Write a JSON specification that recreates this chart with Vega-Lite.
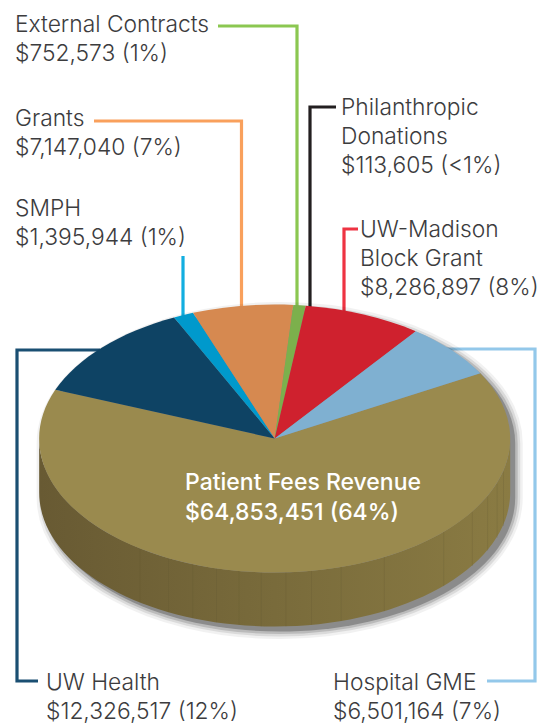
{
"$schema":"https://vega.github.io/schema/vega-lite/v6.json",
"width":539,"height":724,"padding":0,"autosize":{"type":"none"},
"background":"white",
"view":{"stroke":null},
"datasets":{
"slices":[
{"source":"Patient Fees Revenue","amount":64853451,"cx":274.7,"cy":438.5},
{"source":"UW Health","amount":12326517,"cx":274.7,"cy":438.5},
{"source":"SMPH","amount":1395944,"cx":274.7,"cy":438.5},
{"source":"Grants","amount":7147040,"cx":274.7,"cy":438.5},
{"source":"External Contracts","amount":752573,"cx":274.7,"cy":438.5},
{"source":"UW-Madison Block Grant","amount":8286897,"cx":274.7,"cy":438.5},
{"source":"Hospital GME","amount":6501164,"cx":274.7,"cy":438.5}
],
"labels":[
{"source":"External Contracts","label":["External Contracts","$752,573 (1%)"],"lx":15,"ly":31.5},
{"source":"Grants","label":["Grants","$7,147,040 (7%)"],"lx":15,"ly":125.5},
{"source":"SMPH","label":["SMPH","$1,395,944 (1%)"],"lx":15,"ly":216},
{"source":"Philanthropic Donations","label":["Philanthropic","Donations","$113,605 (<1%)"],"lx":341,"ly":115},
{"source":"UW-Madison Block Grant","label":["UW-Madison","Block Grant","$8,286,897 (8%)"],"lx":360,"ly":237},
{"source":"UW Health","label":["UW Health","$12,326,517 (12%)"],"lx":46,"ly":690},
{"source":"Hospital GME","label":["Hospital GME","$6,501,164 (7%)"],"lx":333,"ly":690}
],
"center":[{"source":"Patient Fees Revenue","label":["Patient Fees Revenue","$64,853,451 (64%)"],"lx":185,"ly":490}],
"leaders":[
{"source":"External Contracts","step":1,"x":218,"y":26},{"source":"External Contracts","step":2,"x":297,"y":26},{"source":"External Contracts","step":3,"x":297,"y":310},
{"source":"Grants","step":1,"x":94,"y":121},{"source":"Grants","step":2,"x":241.5,"y":121},{"source":"Grants","step":3,"x":241.5,"y":308},
{"source":"SMPH","step":1,"x":183,"y":256},{"source":"SMPH","step":2,"x":183,"y":318},
{"source":"Philanthropic Donations","step":1,"x":336,"y":107},{"source":"Philanthropic Donations","step":2,"x":310,"y":107},{"source":"Philanthropic Donations","step":3,"x":310,"y":308},
{"source":"UW-Madison Block Grant","step":1,"x":358,"y":229},{"source":"UW-Madison Block Grant","step":2,"x":344,"y":229},{"source":"UW-Madison Block Grant","step":3,"x":344,"y":314},
{"source":"UW Health","step":1,"x":100,"y":350},{"source":"UW Health","step":2,"x":17,"y":350},{"source":"UW Health","step":3,"x":17,"y":681},{"source":"UW Health","step":4,"x":38,"y":681},
{"source":"Hospital GME","step":1,"x":440,"y":349},{"source":"Hospital GME","step":2,"x":535,"y":349},{"source":"Hospital GME","step":3,"x":535,"y":681},{"source":"Hospital GME","step":4,"x":487,"y":681}
],
"ribs":[
{"x":139.9,"y":548.4,"y2":602.4},{"x":168.5,"y":558.1,"y2":612.1},{"x":192.7,"y":564.1,"y2":618.1},{"x":216.5,"y":568.3,"y2":622.3},{"x":239,"y":570.9,"y2":624.9},{"x":261.4,"y":572.3,"y2":626.3},{"x":285.9,"y":572.4,"y2":626.4},{"x":311.5,"y":570.9,"y2":624.9},{"x":341.2,"y":567.1,"y2":621.1},{"x":384.3,"y":557.3,"y2":611.3},{"x":443.7,"y":532.2,"y2":586.2},{"x":472.4,"y":512,"y2":566},{"x":487.6,"y":496.7,"y2":550.7},{"x":497.2,"y":483.7,"y2":537.7},{"x":503.5,"y":472,"y2":526}
],
"body":[{"part":"pie body","cx":274.7,"cy":438.5}],
"shadow":[{"part":"drop shadow","cx":279.7,"cy":443.5}]
},
"resolve":{"scale":{"color":"independent","shape":"independent"}},
"layer":[
{"data":{"name":"leaders"},
 "mark":{"type":"line","strokeWidth":3.2,"strokeJoin":"miter","strokeCap":"butt"},
 "encoding":{
  "x":{"field":"x","type":"quantitative","scale":{"domain":[0,539],"range":[0,539],"nice":false,"zero":false},"axis":null},
  "y":{"field":"y","type":"quantitative","scale":{"domain":[0,724],"range":[0,724],"nice":false,"zero":false},"axis":null},
  "order":{"field":"step","type":"ordinal"},
  "color":{"field":"source","type":"nominal","legend":null,"scale":{
   "domain":["External Contracts","Grants","SMPH","Philanthropic Donations","UW-Madison Block Grant","UW Health","Hospital GME"],
   "range":["#8bc751","#f9a05c","#12aee0","#231f20","#ee3342","#1a4f72","#93c8ea"]}}
 }},
{"data":{"name":"shadow"},"mark":{"type":"point","filled":true,"shape":"M-235.5,0 A235.5,134 0 0 1 235.5,0 L235.5,54 A235.5,134 0 0 1 -235.5,54 Z","fill":"#000","stroke":"#000","strokeWidth":15,"opacity":0.05,"size":4},
 "encoding":{"x":{"field":"cx","type":"quantitative","scale":{"domain":[0,539],"range":[0,539],"nice":false,"zero":false},"axis":null},"y":{"field":"cy","type":"quantitative","scale":{"domain":[0,724],"range":[0,724],"nice":false,"zero":false},"axis":null}}},
{"data":{"name":"shadow"},"mark":{"type":"point","filled":true,"shape":"M-235.5,0 A235.5,134 0 0 1 235.5,0 L235.5,54 A235.5,134 0 0 1 -235.5,54 Z","fill":"#000","stroke":"#000","strokeWidth":10,"opacity":0.09,"size":4},
 "encoding":{"x":{"field":"cx","type":"quantitative","scale":{"domain":[0,539],"range":[0,539],"nice":false,"zero":false},"axis":null},"y":{"field":"cy","type":"quantitative","scale":{"domain":[0,724],"range":[0,724],"nice":false,"zero":false},"axis":null}}},
{"data":{"name":"shadow"},"mark":{"type":"point","filled":true,"shape":"M-235.5,0 A235.5,134 0 0 1 235.5,0 L235.5,54 A235.5,134 0 0 1 -235.5,54 Z","fill":"#000","stroke":"#000","strokeWidth":5,"opacity":0.14,"size":4},
 "encoding":{"x":{"field":"cx","type":"quantitative","scale":{"domain":[0,539],"range":[0,539],"nice":false,"zero":false},"axis":null},"y":{"field":"cy","type":"quantitative","scale":{"domain":[0,724],"range":[0,724],"nice":false,"zero":false},"axis":null}}},
{"data":{"name":"shadow"},"mark":{"type":"point","filled":true,"shape":"M-235.5,0 A235.5,134 0 0 1 235.5,0 L235.5,54 A235.5,134 0 0 1 -235.5,54 Z","fill":"#000","stroke":"#000","strokeWidth":0,"opacity":0.25,"size":4},
 "encoding":{"x":{"field":"cx","type":"quantitative","scale":{"domain":[0,539],"range":[0,539],"nice":false,"zero":false},"axis":null},"y":{"field":"cy","type":"quantitative","scale":{"domain":[0,724],"range":[0,724],"nice":false,"zero":false},"axis":null}}},
{"data":{"name":"body"},"mark":{"type":"point","filled":true,"opacity":1,"size":4,"strokeWidth":0,
  "shape":"M-235.5,0 A235.5,134 0 0 0 235.5,0 L235.5,54 A235.5,134 0 0 1 -235.5,54 Z",
  "fill":{"gradient":"linear","x1":0,"y1":0,"x2":1,"y2":0,"stops":[{"offset":0,"color":"#685a33"},{"offset":0.5,"color":"#796b3b"},{"offset":1,"color":"#8a7b43"}]}},
 "encoding":{"x":{"field":"cx","type":"quantitative","scale":{"domain":[0,539],"range":[0,539],"nice":false,"zero":false},"axis":null},"y":{"field":"cy","type":"quantitative","scale":{"domain":[0,724],"range":[0,724],"nice":false,"zero":false},"axis":null}}},
{"data":{"name":"ribs"},"mark":{"type":"rule","stroke":"#5e5230","strokeWidth":0.7,"opacity":0.28},
 "encoding":{"x":{"field":"x","type":"quantitative","scale":{"domain":[0,539],"range":[0,539],"nice":false,"zero":false},"axis":null},"y":{"field":"y","type":"quantitative","scale":{"domain":[0,724],"range":[0,724],"nice":false,"zero":false},"axis":null},"y2":{"field":"y2"}}},
{"data":{"name":"slices"},"mark":{"type":"point","filled":true,"opacity":1,"size":4,"strokeWidth":0},
 "encoding":{
  "x":{"field":"cx","type":"quantitative","scale":{"domain":[0,539],"range":[0,539],"nice":false,"zero":false},"axis":null},"y":{"field":"cy","type":"quantitative","scale":{"domain":[0,724],"range":[0,724],"nice":false,"zero":false},"axis":null},
  "shape":{"field":"source","type":"nominal","legend":null,"scale":{
   "domain":["Patient Fees Revenue","UW Health","SMPH","Grants","External Contracts","UW-Madison Block Grant","Hospital GME"],
   "range":[
    "M0,0 L205.6,-65.3 A235.5,134 0 1 1 -219.4,-48.7 Z",
    "M0,0 L-219.4,-48.7 A235.5,134 0 0 1 -100.6,-121.1 Z",
    "M0,0 L-100.6,-121.1 A235.5,134 0 0 1 -81.7,-125.7 Z",
    "M0,0 L-81.7,-125.7 A235.5,134 0 0 1 18.6,-133.6 Z",
    "M0,0 L18.6,-133.6 A235.5,134 0 0 1 31.1,-132.8 Z",
    "M0,0 L31.1,-132.8 A235.5,134 0 0 1 141.1,-107.3 Z",
    "M0,0 L141.1,-107.3 A235.5,134 0 0 1 205.6,-65.3 Z"]}},
  "color":{"field":"source","type":"nominal","legend":null,"scale":{
   "domain":["Patient Fees Revenue","UW Health","SMPH","Grants","External Contracts","UW-Madison Block Grant","Hospital GME"],
   "range":["#9a8a4e","#0e4364","#0099cc","#d68950","#7cb04c","#cf212e","#7fb0d1"]}}
 }},
{"data":{"name":"labels"},"mark":{"type":"text","align":"left","baseline":"alphabetic","font":"Inter","fontWeight":300,"fontSize":22.8,"lineHeight":29,"fill":"#3c3c3e"},
 "encoding":{"x":{"field":"lx","type":"quantitative","scale":{"domain":[0,539],"range":[0,539],"nice":false,"zero":false},"axis":null},"y":{"field":"ly","type":"quantitative","scale":{"domain":[0,724],"range":[0,724],"nice":false,"zero":false},"axis":null},"text":{"field":"label"}}},
{"data":{"name":"center"},"mark":{"type":"text","align":"left","baseline":"alphabetic","font":"Inter","fontWeight":500,"fontSize":23,"lineHeight":30,"fill":"#ffffff"},
 "encoding":{"x":{"field":"lx","type":"quantitative","scale":{"domain":[0,539],"range":[0,539],"nice":false,"zero":false},"axis":null},"y":{"field":"ly","type":"quantitative","scale":{"domain":[0,724],"range":[0,724],"nice":false,"zero":false},"axis":null},"text":{"field":"label"}}}
]
}
